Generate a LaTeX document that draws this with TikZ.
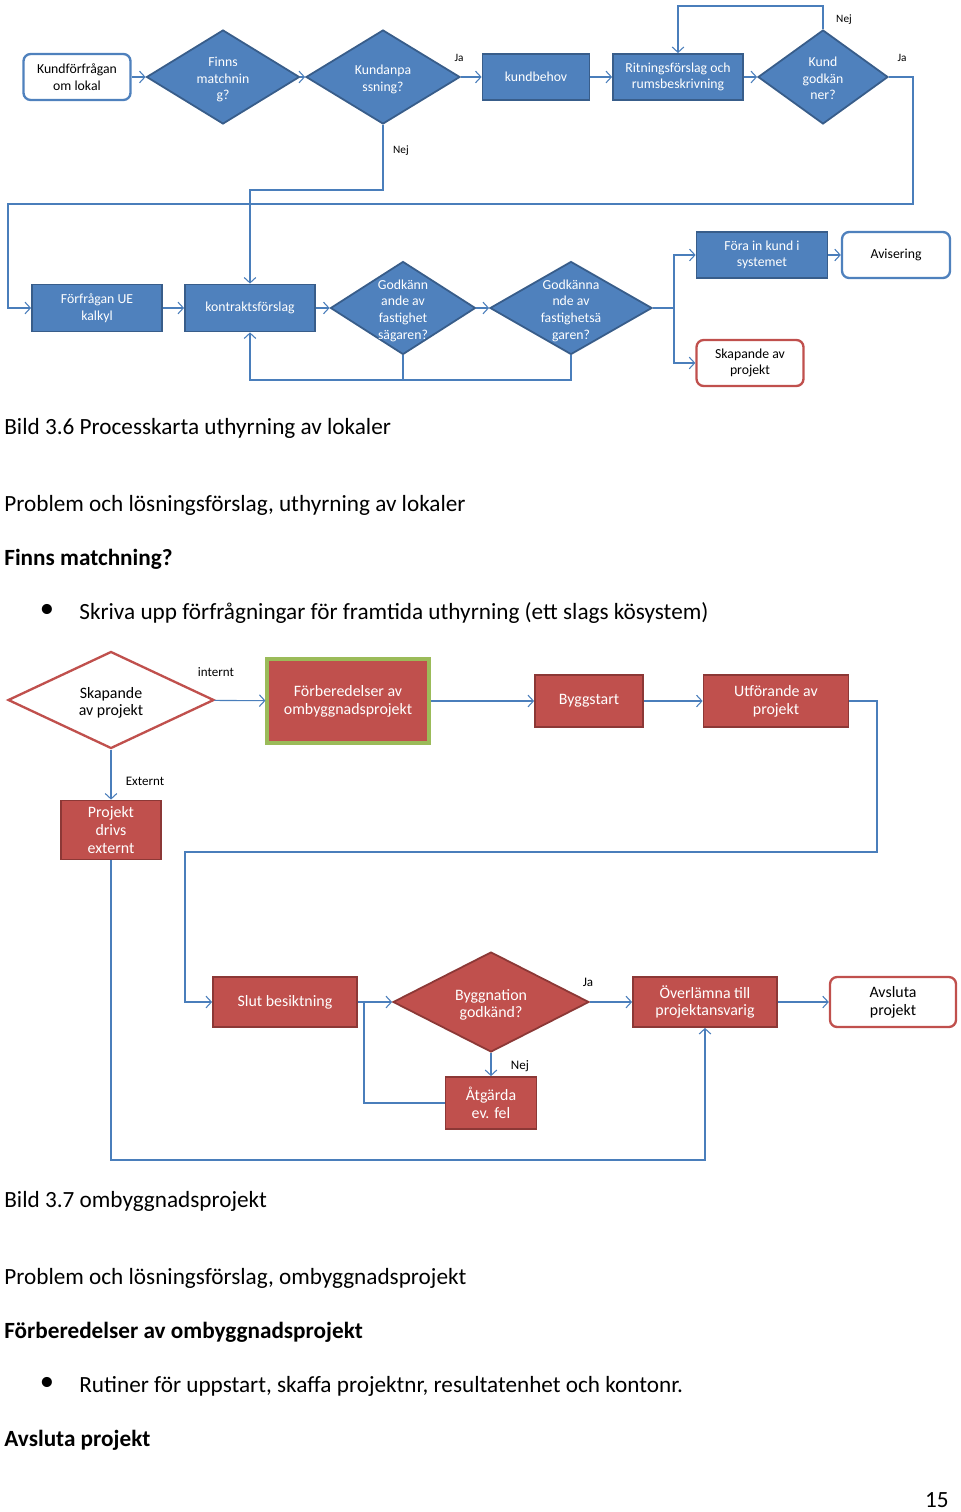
\documentclass[tikz,border=0pt]{standalone}
\usepackage{fontspec}
\setmainfont{Carlito}
\usepackage{xcolor}
\definecolor{boxblue}{HTML}{4F81BD}
\definecolor{edgeblue}{HTML}{385D8A}
\definecolor{boxred}{HTML}{C0504D}
\definecolor{edgered}{HTML}{8C3836}
\definecolor{edgegreen}{HTML}{9BBB59}
\definecolor{linkblue}{HTML}{4A7EBB}
\usetikzlibrary{arrows.meta,shapes.geometric}
\newcommand{\dtxt}[1]{\raisebox{-0.47em}[0pt][0pt]{\begin{tabular}{@{}c@{}}#1\end{tabular}}}

\begin{document}
\begin{tikzpicture}[x=0.56pt,y=-0.56pt,
  sz/.style 2 args={minimum width=#1*0.56pt,minimum height=#2*0.56pt},
  bbox/.style={draw=edgeblue,fill=boxblue,line width=1pt,text=white,align=center,inner sep=0pt,font=\fontsize{7.7}{9.3}\selectfont},
  bdec/.style={bbox,shape=diamond},
  bterm/.style={draw=boxblue,fill=white,rounded corners=4pt,line width=1.3pt,align=center,inner sep=0pt,font=\fontsize{7.7}{9.3}\selectfont},
  rbox/.style={draw=edgered,fill=boxred,line width=1pt,text=white,align=center,inner sep=0pt,font=\fontsize{8.9}{10}\selectfont},
  rdec/.style={rbox,shape=diamond},
  rterm/.style={draw=boxred,fill=white,rounded corners=4pt,line width=1.3pt,align=center,inner sep=0pt,font=\fontsize{8.9}{10}\selectfont},
  arr/.style={draw=linkblue,line width=0.6pt,-{Straight Barb[length=3pt,width=6.5pt]}},
  ln/.style={draw=linkblue,line width=0.6pt},
  lbl/.style={inner sep=0pt,font=\fontsize{6.3}{7}\selectfont},
  txt/.style={anchor=west,inner sep=0pt,font=\fontsize{13}{15}\selectfont}]
\useasboundingbox (0,0) rectangle (960,1512);
% Bild 3.6
\node[bterm,sz={107}{46}] (kfr) at (77,77) {Kundförfrågan\\om lokal};
\node[bdec,sz={153}{94}] (fm) at (223,77) {\dtxt{Finns\\matchnin\\g?}};
\node[bdec,sz={154}{94}] (ka) at (383,77) {\dtxt{Kundanpa\\ssning?}};
\node[bbox,sz={107}{46}] (kb) at (536,77) {kundbehov};
\node[bbox,sz={130}{46}] (rf) at (678,77) {Ritningsförslag och\\rumsbeskrivning};
\node[bdec,sz={130}{94}] (kg) at (823,77) {\dtxt{Kund\\godkän\\ner?}};
\node[bbox,sz={130}{47}] (fue) at (97,308) {Förfrågan UE\\kalkyl};
\node[bbox,sz={130}{47}] (kf) at (250,308) {kontraktsförslag};
\node[bdec,sz={145}{93}] (gf1) at (403,308) {\dtxt{Godkänn\\ande av\\fastighet\\sägaren?}};
\node[bdec,sz={162}{93}] (gf2) at (571,308) {\dtxt{Godkänna\\nde av\\fastighetsä\\garen?}};
\node[bbox,sz={131}{46}] (fk) at (762,255) {Föra in kund i\\systemet};
\node[bterm,sz={108}{46}] (av) at (896,255) {Avisering};
\node[bterm,draw=boxred,sz={107}{46}] (sp) at (750,363) {Skapande av\\projekt};
\coordinate (n1) at (383,190);
\coordinate (t1) at (823,6);
\coordinate (r1) at (913,204);
\coordinate (l1) at (8,204);
\coordinate (b1) at (571,380);
\coordinate (s1) at (674,308);
\draw[arr] (kfr) -- (fm);
\draw[arr] (fm) -- (ka);
\draw[arr] (ka) -- (kb);
\draw[arr] (kb) -- (rf);
\draw[arr] (rf) -- (kg);
\draw[arr] (ka.south) -- (n1) -| (kf.north);
\draw[arr] (kg.north) -- (t1) -| (rf.north);
\draw[arr] (kg.east) -| (r1) -- (l1) |- (fue.west);
\draw[arr] (fue) -- (kf);
\draw[arr] (kf) -- (gf1);
\draw[arr] (gf1) -- (gf2);
\draw[ln] (gf1.south) -- (gf1.south |- b1);
\draw[arr] (gf2.south) -- (b1) -| (kf.south);
\draw[ln] (gf2.east) -- (s1);
\draw[arr] (s1) |- (fk.west);
\draw[arr] (s1) |- (sp.west);
\draw[arr] (fk) -- (av);
\node[lbl] (ja1) at (459,58) {Ja};
\node[lbl] (nej1) at (401,151) {Nej};
\node[lbl] (nej2) at (844,20) {Nej};
\node[lbl] (ja2) at (902,58) {Ja};
\node[txt] (cap1) at (4,428) {Bild 3.6 Processkarta uthyrning av lokaler};
\node[txt] (h1) at (4,505) {Problem och lösningsförslag, uthyrning av lokaler};
\node[txt] (s11) at (4,559) {\textbf{Finns matchning?}};
\node[inner sep=0pt,font=\fontsize{16}{16}\selectfont] (d1) at (47,611) {•};
\node[txt] (p1) at (79,613) {Skriva upp förfrågningar för framtida uthyrning (ett slags kösystem)};
% Bild 3.7
\node[rdec,fill=white,text=black,draw=boxred,line width=1.3pt,sz={206}{97}] (skp) at (111,700) {\dtxt{Skapande\\av projekt}};
\node[rbox,draw=edgegreen,line width=1.7pt,sz={162}{84}] (fb) at (348,701) {Förberedelser av\\ombyggnadsprojekt};
\node[rbox,sz={108}{52}] (bs) at (589,701) {Byggstart};
\node[rbox,sz={145}{52}] (ua) at (776,701) {Utförande av\\projekt};
\node[rbox,sz={100}{59}] (pde) at (111,830) {Projekt\\drivs\\externt};
\node[rbox,sz={144}{50}] (sb) at (285,1002) {Slut besiktning};
\node[rdec,sz={196}{100}] (bg) at (491,1002) {\dtxt{Byggnation\\godkänd?}};
\node[rbox,sz={144}{50}] (ol) at (705,1002) {Överlämna till\\projektansvarig};
\node[rterm,sz={126}{50}] (ap) at (893,1002) {Avsluta\\projekt};
\node[rbox,sz={91}{52}] (atg) at (491,1103) {Åtgärda\\ev. fel};
\coordinate (u1) at (877,852);
\coordinate (u2) at (185,852);
\coordinate (q1) at (111,1160);
\coordinate (a1) at (364,1002);
\draw[arr] (skp) -- (fb);
\draw[arr] (fb) -- (bs);
\draw[arr] (bs) -- (ua);
\draw[arr] (ua.east) -| (u1) -- (u2) |- (sb.west);
\draw[arr] (skp) -- (pde);
\draw[arr] (pde.south) -- (q1) -| (ol.south);
\draw[arr] (sb) -- (bg);
\draw[arr] (bg) -- (ol);
\draw[arr] (ol) -- (ap);
\draw[arr] (bg) -- (atg);
\draw[ln] (atg.west) -| (a1);
\node[lbl,font=\fontsize{7.3}{8}\selectfont] (in1) at (216,672) {internt};
\node[lbl,font=\fontsize{7.3}{8}\selectfont] (ex1) at (145,781) {Externt};
\node[lbl,font=\fontsize{7.3}{8}\selectfont] (ja3) at (588,982) {Ja};
\node[lbl,font=\fontsize{7.3}{8}\selectfont] (nej3) at (520,1066) {Nej};
\node[txt] (cap2) at (4,1201) {Bild 3.7 ombyggnadsprojekt};
\node[txt] (h2) at (4,1278) {Problem och lösningsförslag, ombyggnadsprojekt};
\node[txt] (s21) at (4,1332) {\textbf{Förberedelser av ombyggnadsprojekt}};
\node[inner sep=0pt,font=\fontsize{16}{16}\selectfont] (d2) at (47,1384) {•};
\node[txt] (p2) at (79,1386) {Rutiner för uppstart, skaffa projektnr, resultatenhet och kontonr.};
\node[txt] (s22) at (4,1440) {\textbf{Avsluta projekt}};
\node[txt,anchor=east] (pg) at (949,1500) {15};
\end{tikzpicture}
\end{document}
